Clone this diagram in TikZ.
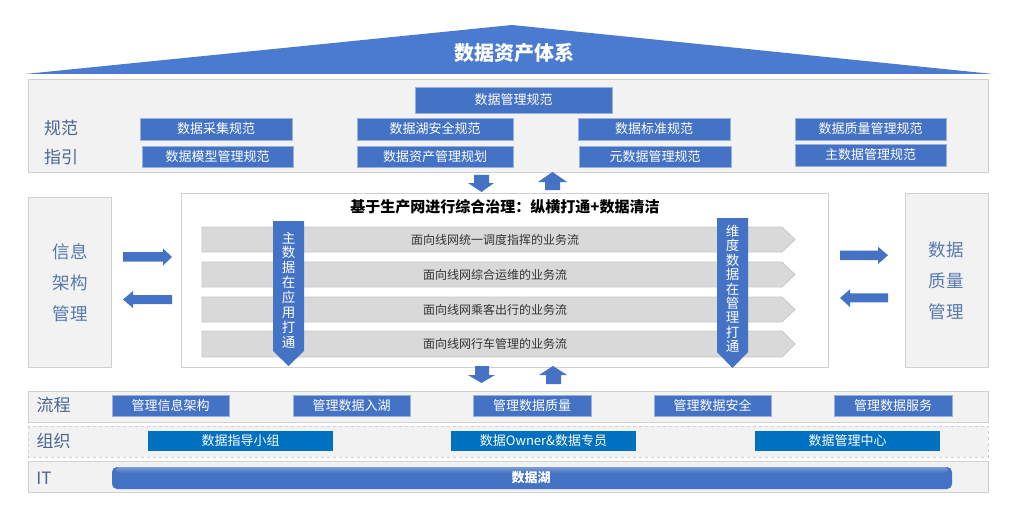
\documentclass[tikz,border=0pt]{standalone}
\usepackage{fontspec}
\setmainfont{Noto Sans CJK SC}
\definecolor{boxblue}{HTML}{4472C4}
\definecolor{roofblue}{HTML}{4A7BD0}
\definecolor{panelgray}{HTML}{F2F2F2}
\definecolor{panelline}{HTML}{D0D0D0}
\definecolor{labelc}{HTML}{4A6592}
\definecolor{sidec}{HTML}{5679AE}
\definecolor{orgblue}{HTML}{0070C0}
\definecolor{flowgray}{HTML}{D9D9D9}
\definecolor{flowline}{HTML}{C8C8C8}
\definecolor{flowtext}{HTML}{333333}
\begin{document}
\begin{tikzpicture}[x=1pt,y=-1pt,
  fs/.style={font=\fontsize{#1pt}{#1pt}\selectfont},
  panel/.style={fill=panelgray,draw=panelline,line width=0.8pt},
  nbox/.style={fill=boxblue,draw=boxblue!55!white,line width=0.6pt,text=white,inner sep=0pt,fs=13},
  obox/.style={fill=orgblue,draw=none,text=white,inner sep=0pt,fs=13},
  lbl/.style={text=labelc,inner sep=0pt,fs=17},
  side/.style={text=sidec,inner sep=0pt,align=center,font=\fontsize{17.5pt}{31pt}\selectfont},
  flowtxt/.style={text=flowtext,inner sep=0pt,fs=12},
  vtxt/.style={text=white,inner sep=0pt,align=center},
  blockarrow/.style={fill=boxblue,draw=none},
]
\fill[white] (0,0) rectangle (1024,505);
\useasboundingbox (0,0) rectangle (1024,505);

% roof
\fill[roofblue] (25,74) -- (512,25) -- (993,74) -- cycle;
\node[text=white,inner sep=0pt,font=\fontsize{20pt}{20pt}\selectfont\bfseries] (title) at (514,53) {数据资产体系};

% norms panel
\draw[panel] (28,79) rectangle (988,172);
\node[lbl] (gf) at (61,128) {规范};
\node[lbl] (zy) at (61,157) {指引};
\node[nbox,minimum width=197pt,minimum height=26pt] (n0) at (513.5,100) {数据管理规范};
\node[nbox,minimum width=152pt,minimum height=22pt] (n1) at (216,129) {数据采集规范};
\node[nbox,minimum width=156pt,minimum height=22pt] (n2) at (435,129) {数据湖安全规范};
\node[nbox,minimum width=152pt,minimum height=22pt] (n3) at (654,129) {数据标准规范};
\node[nbox,minimum width=151pt,minimum height=22pt] (n4) at (870.5,129) {数据质量管理规范};
\node[nbox,minimum width=151pt,minimum height=21pt] (n5) at (217.5,156.5) {数据模型管理规范};
\node[nbox,minimum width=156pt,minimum height=21pt] (n6) at (435,156.5) {数据资产管理规划};
\node[nbox,minimum width=152pt,minimum height=21pt] (n7) at (655,156.5) {元数据管理规范};
\node[nbox,minimum width=151pt,minimum height=22pt] (n8) at (870.5,155) {主数据管理规范};

% arrows norms <-> center
\fill[blockarrow] (474,175) -- (489,175) -- (489,183) -- (494,183) -- (481.5,192) -- (468,183) -- (474,183) -- cycle;
\fill[blockarrow] (552.5,172) -- (567,182) -- (560,182) -- (560,190) -- (545,190) -- (545,182) -- (538,182) -- cycle;

% side boxes
\draw[panel] (28,197) rectangle (111,367);
\node[side] (xx) at (70,283) {信息\\架构\\管理};
\draw[panel] (905,193) rectangle (988,367);
\node[side] (sj) at (946,281) {数据\\质量\\管理};

% side arrows
\fill[blockarrow] (123,252) -- (163,252) -- (163,248.5) -- (172,257) -- (163,265.5) -- (163,261.5) -- (123,261.5) -- cycle;
\fill[blockarrow] (172,295) -- (133,295) -- (133,291) -- (123,299.5) -- (133,308) -- (133,304) -- (172,304) -- cycle;
\fill[blockarrow] (840,250.7) -- (878,250.7) -- (878,246.7) -- (888,255.3) -- (878,264) -- (878,260) -- (840,260) -- cycle;
\fill[blockarrow] (888,293.3) -- (850,293.3) -- (850,289.3) -- (840,298) -- (850,307) -- (850,302.3) -- (888,302.3) -- cycle;

% center box
\draw[fill=white,draw=panelline,line width=0.8pt] (181,193) rectangle (828,367);
\node[inner sep=0pt,font=\fontsize{15pt}{15pt}\selectfont\bfseries] (ct) at (505,207) {基于生产网进行综合治理：纵横打通+数据清洁};

\foreach \t/\b in {227/252, 262/287, 297/322, 331/357} {
  \filldraw[fill=flowgray,draw=flowline,line width=0.8pt] (202,\t) -- (782,\t) -- (795,{(\t+\b)/2}) -- (782,\b) -- (202,\b) -- cycle;
}
\node[flowtxt] (f1) at (495,239.5) {面向线网统一调度指挥的业务流};
\node[flowtxt] (f2) at (495,274.5) {面向线网综合运维的业务流};
\node[flowtxt] (f3) at (495,309.5) {面向线网乘客出行的业务流};
\node[flowtxt] (f4) at (495,344) {面向线网行车管理的业务流};

\fill[blockarrow] (273,221) -- (304,221) -- (304,351) -- (288.5,366) -- (273,351) -- cycle;
\node[vtxt,font=\fontsize{13.5pt}{14.9pt}\selectfont] (v1) at (288.5,290) {主\\数\\据\\在\\应\\用\\打\\通};
\fill[blockarrow] (717,218) -- (748,218) -- (748,352) -- (732.5,368) -- (717,352) -- cycle;
\node[vtxt,font=\fontsize{13.5pt}{14.4pt}\selectfont] (v2) at (732.5,289) {维\\度\\数\\据\\在\\管\\理\\打\\通};

% arrows center <-> process
\fill[blockarrow] (475,366) -- (489,366) -- (489,375) -- (495,375) -- (481.5,383) -- (468,375) -- (475,375) -- cycle;
\fill[blockarrow] (553,366) -- (567,375) -- (561,375) -- (561,384) -- (546,384) -- (546,375) -- (539,375) -- cycle;

% process row
\draw[panel] (28,391) rectangle (988,422);
\node[lbl] (lc) at (53.5,405) {流程};
\node[nbox,minimum width=117pt,minimum height=21pt] (p1) at (170.5,405.5) {管理信息架构};
\node[nbox,minimum width=117pt,minimum height=21pt] (p2) at (351.5,405.5) {管理数据入湖};
\node[nbox,minimum width=118pt,minimum height=21pt] (p3) at (532,405.5) {管理数据质量};
\node[nbox,minimum width=117pt,minimum height=21pt] (p4) at (712.5,405.5) {管理数据安全};
\node[nbox,minimum width=118pt,minimum height=21pt] (p5) at (893,405.5) {管理数据服务};

% organisation row
\draw[fill=panelgray,draw=panelline,dashed,line width=0.8pt] (28,426) rectangle (988,457);
\node[lbl] (zz) at (53.5,441) {组织};
\node[obox,minimum width=185pt,minimum height=20pt] (o1) at (240.5,441) {数据指导小组};
\node[obox,minimum width=185pt,minimum height=20pt] (o2) at (543.5,441) {数据Owner\&数据专员};
\node[obox,minimum width=185pt,minimum height=20pt] (o3) at (847.5,441) {数据管理中心};

% IT row
\draw[panel] (28,461) rectangle (988,492);
\node[lbl] (it) at (44,478) {IT};
\fill[boxblue,rounded corners=5pt] (112,467) rectangle (952,489);
\shade[top color=boxblue!70!white,bottom color=boxblue,rounded corners=3pt] (116,467) rectangle (948,473);
\node[text=white,inner sep=0pt,font=\fontsize{13pt}{13pt}\selectfont\bfseries] (hu) at (531,478) {数据湖};
\end{tikzpicture}
\end{document}
